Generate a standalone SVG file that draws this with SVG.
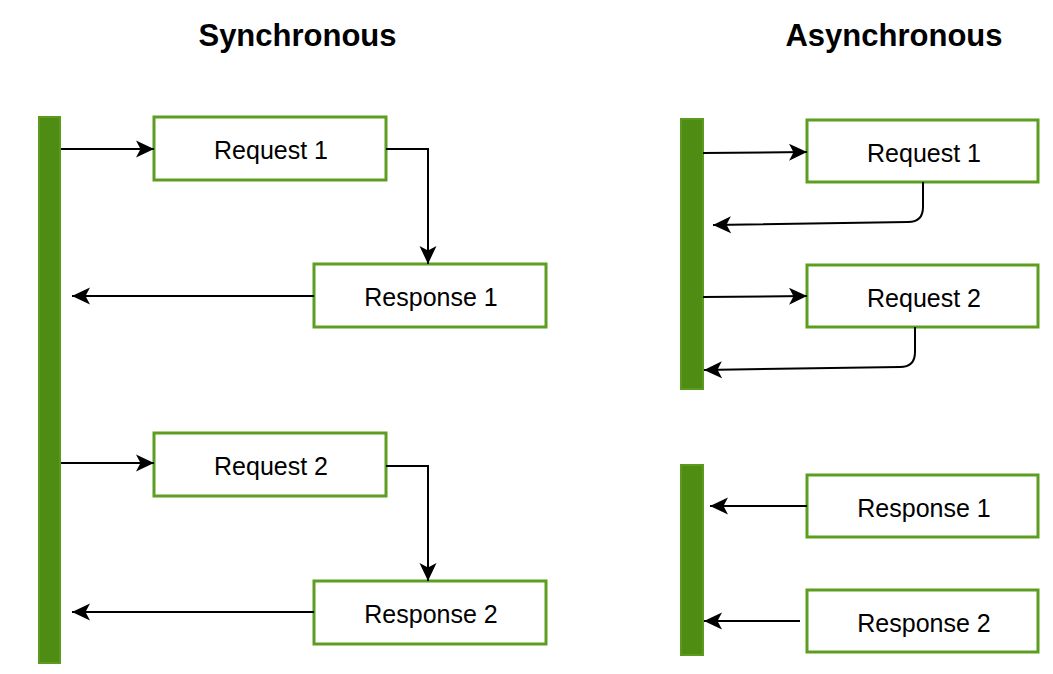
<svg xmlns="http://www.w3.org/2000/svg" width="1053" height="674" viewBox="0 0 1053 674">
<style>
.bar{fill:#4e8c13;stroke:#5a9a1c;stroke-width:2}
.box{fill:#ffffff;stroke:#5c9e1f;stroke-width:3}
.lbl{font-family:"Liberation Sans",Arial,sans-serif;font-size:25px;fill:#000;text-anchor:middle}
.ttl{font-family:"Liberation Sans",Arial,sans-serif;font-size:31px;font-weight:bold;fill:#000;text-anchor:middle}
.cn{fill:none;stroke:#000;stroke-width:2;marker-end:url(#ah)}
</style>
<defs>
<marker id="ah" markerUnits="userSpaceOnUse" markerWidth="22" markerHeight="22" refX="18" refY="10" orient="auto">
<path d="M0 1.5 L18 10 L0 18.5 L4.5 10 Z" fill="#000"/>
</marker>
</defs>
<rect width="1053" height="674" fill="#ffffff"/>
<text class="ttl" x="297.5" y="46">Synchronous</text>
<text class="ttl" x="894" y="46">Asynchronous</text>

<g id="sync-bar"><rect class="bar" x="39" y="117" width="21" height="546"/></g>
<g id="sync-request1"><rect class="box" x="154" y="117" width="232" height="63"/><text class="lbl" x="271" y="159">Request 1</text></g>
<g id="sync-response1"><rect class="box" x="314" y="264" width="232" height="63"/><text class="lbl" x="431" y="306">Response 1</text></g>
<g id="sync-request2"><rect class="box" x="154" y="433" width="232" height="63"/><text class="lbl" x="271" y="475">Request 2</text></g>
<g id="sync-response2"><rect class="box" x="314" y="581" width="232" height="63"/><text class="lbl" x="431" y="623">Response 2</text></g>

<g id="async-bar1"><rect class="bar" x="681" y="119" width="22" height="270"/></g>
<g id="async-bar2"><rect class="bar" x="681" y="465" width="22" height="190"/></g>
<g id="async-request1"><rect class="box" x="807" y="120" width="231" height="62"/><text class="lbl" x="924" y="162">Request 1</text></g>
<g id="async-request2"><rect class="box" x="807" y="265" width="231" height="62"/><text class="lbl" x="924" y="307">Request 2</text></g>
<g id="async-response1"><rect class="box" x="807" y="475" width="231" height="62"/><text class="lbl" x="924" y="517">Response 1</text></g>
<g id="async-response2"><rect class="box" x="807" y="590" width="231" height="62"/><text class="lbl" x="924" y="632">Response 2</text></g>

<g id="connectors">
<path class="cn" d="M61 149 L154 149"/>
<path class="cn" d="M386 149 L428 149 L428 264"/>
<path class="cn" d="M314 296 L72 296"/>
<path class="cn" d="M61 463 L154 463"/>
<path class="cn" d="M386 466 L428 466 L428 581"/>
<path class="cn" d="M314 612 L72 612"/>
<path class="cn" d="M703 153 L807 152"/>
<path class="cn" d="M923 182 L923 207 Q923 222 908 222 L713 225"/>
<path class="cn" d="M703 297 L807 296"/>
<path class="cn" d="M915 327 L915 352 Q915 367 900 367 L704 370"/>
<path class="cn" d="M807 506 L710 506"/>
<path class="cn" d="M800 621 L704 621"/>
</g>
</svg>
